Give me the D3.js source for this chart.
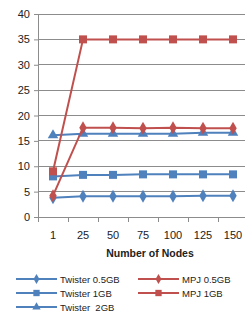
<!DOCTYPE html>
<html><head><meta charset="utf-8">
<script src="https://cdn.jsdelivr.net/npm/d3@7"></script>
<style>html,body{margin:0;padding:0;background:#fff;overflow:hidden}</style>
</head><body><svg id="c" width="245" height="331"></svg>
<script>
const categories = ["1","25","50","75","100","125","150"];
const yTicks = [0,5,10,15,20,25,30,35,40];
const twister05 = [3.8,4.1,4.1,4.1,4.1,4.2,4.2];
const twister1 = [8.0,8.3,8.3,8.4,8.4,8.4,8.4];
const twister2 = [16.1,16.4,16.4,16.4,16.4,16.6,16.6];
const mpj05 = [4.2,17.6,17.6,17.5,17.6,17.5,17.5];
const mpj1 = [9.0,35,35,35,35,35,35];
const seriesNames = ["Twister 0.5GB","Twister 1GB","Twister  2GB","MPJ 0.5GB","MPJ 1GB"];

const blue="#4F81BD", red="#C0504D";
const series = [
  {name:seriesNames[0], values:twister05, color:blue, shape:d3.symbolDiamond},
  {name:seriesNames[1], values:twister1, color:blue, shape:d3.symbolSquare},
  {name:seriesNames[2], values:twister2, color:blue, shape:d3.symbolTriangle},
  {name:seriesNames[3], values:mpj05, color:red, shape:d3.symbolDiamond},
  {name:seriesNames[4], values:mpj1, color:red, shape:d3.symbolSquare}
];
const svg = d3.select("#c");
const font = "'Liberation Sans', Arial, sans-serif";
const x = d3.scaleBand().domain(categories).range([38,248]);
const y = d3.scaleLinear().domain([0,40]).range([217,14]);

// gridlines
svg.append("g").selectAll("line").data(yTicks).join("line")
  .attr("x1",38).attr("x2",248).attr("y1",d=>y(d)).attr("y2",d=>y(d))
  .attr("stroke","#8c8c8c").attr("stroke-width",1).attr("shape-rendering","crispEdges");

const yAxis = svg.append("g").attr("transform","translate(38,0)")
  .call(d3.axisLeft(y).tickValues(yTicks).tickSize(4).tickPadding(4));
yAxis.select(".domain").attr("stroke","#8c8c8c");
yAxis.selectAll("line").attr("stroke","#8c8c8c");
yAxis.selectAll("text").attr("font-family",font).attr("font-size",11).attr("fill","#222");

const xAxis = svg.append("g").attr("transform","translate(0,217)")
  .call(d3.axisBottom(x).tickSizeOuter(0).tickSize(0).tickPadding(14));
xAxis.select(".domain").attr("stroke","#8c8c8c");
xAxis.selectAll("text").attr("font-family",font).attr("font-size",11).attr("fill","#222");
// category boundary ticks
const bounds = categories.map(c=>x(c)).concat([x(categories[categories.length-1])+x.bandwidth()]);
svg.append("g").selectAll("line").data(bounds).join("line")
  .attr("x1",d=>d).attr("x2",d=>d).attr("y1",217).attr("y2",222)
  .attr("stroke","#8c8c8c").attr("shape-rendering","crispEdges");

svg.append("text").attr("x",150).attr("y",257).attr("text-anchor","middle")
  .attr("font-family",font).attr("font-size",10.5).attr("font-weight","bold").attr("fill","#222")
  .text("Number of Nodes");

const cx = c => x(c)+x.bandwidth()/2;
const line = d3.line().x((d,i)=>cx(categories[i])).y(d=>y(d));
series.forEach(s=>{
  const g = svg.append("g");
  g.append("path").attr("d",line(s.values)).attr("fill","none").attr("stroke",s.color).attr("stroke-width",2);
  g.selectAll("path.m").data(s.values).join("path").attr("class","m")
    .attr("transform",(d,i)=>`translate(${cx(categories[i])},${y(d)})`)
    .attr("d",d3.symbol().type(s.shape).size(s.shape===d3.symbolSquare?64:48))
    .attr("fill",s.color);
});

// legend
const legPos = [[16,279],[16,293],[16,307],[138,279],[138,293]];
series.forEach((s,i)=>{
  const [lx,ly]=legPos[i];
  const g = svg.append("g");
  g.append("line").attr("x1",lx).attr("x2",lx+41).attr("y1",ly).attr("y2",ly).attr("stroke",s.color).attr("stroke-width",2);
  g.append("path").attr("transform",`translate(${lx+20.5},${ly})`)
    .attr("d",d3.symbol().type(s.shape).size(s.shape===d3.symbolSquare?40:30)).attr("fill",s.color);
  g.append("text").attr("x",lx+44).attr("y",ly+3.5).attr("font-family",font).attr("font-size",9.5).attr("fill","#222")
    .attr("xml:space","preserve").style("white-space","pre").text(s.name);
});
</script></body></html>
